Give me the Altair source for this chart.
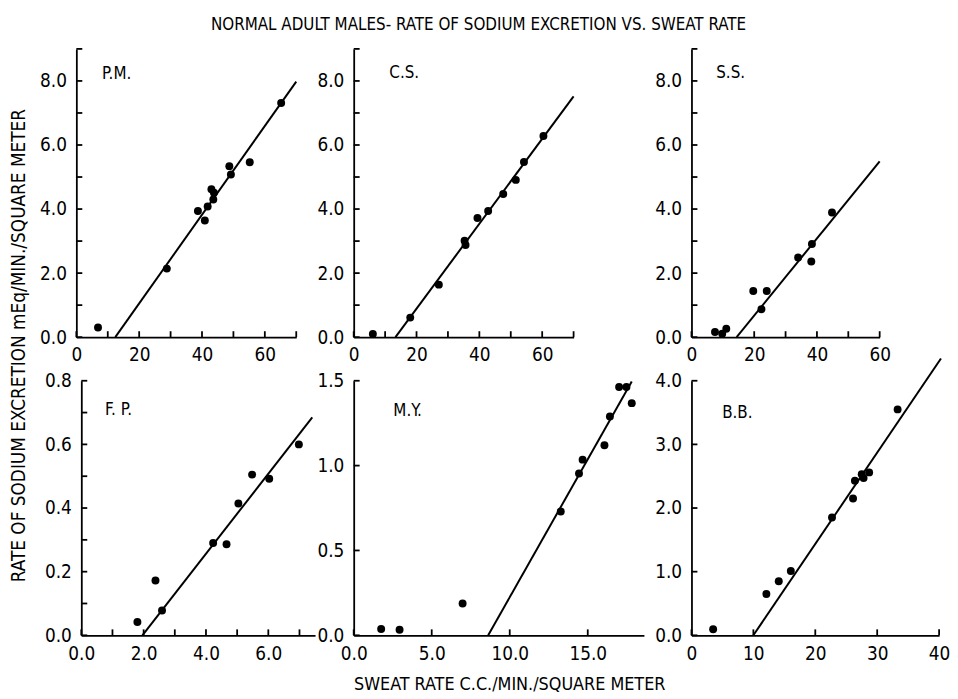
import altair as alt
import pandas as pd

FONT = "Liberation Sans Narrow, DejaVu Sans Condensed, sans-serif"
WEIGHT = "normal"

main_title = "NORMAL ADULT MALES- RATE OF SODIUM EXCRETION VS. SWEAT RATE"
y_title = "RATE OF SODIUM EXCRETION mEq/MIN./SQUARE METER"
x_title = "SWEAT RATE C.C./MIN./SQUARE METER"

# ---- data ----
pm_x = [6.9, 28.8, 38.7, 40.9, 41.8, 43.0, 43.6, 43.8, 48.7, 49.2, 55.2, 65.2]
pm_y = [0.30, 2.14, 3.94, 3.64, 4.08, 4.62, 4.30, 4.51, 5.34, 5.08, 5.46, 7.31]
pm_line_x = [12.4, 70.0]
pm_line_y = [0.0, 7.98]

cs_x = [6.1, 18.0, 27.1, 35.3, 35.6, 39.4, 42.8, 47.6, 51.6, 54.2, 60.4]
cs_y = [0.10, 0.61, 1.64, 3.01, 2.88, 3.72, 3.94, 4.47, 4.91, 5.47, 6.28]
cs_line_x = [13.3, 70.0]
cs_line_y = [0.0, 7.52]

ss_x = [7.5, 9.8, 11.1, 19.7, 22.3, 24.0, 34.0, 38.2, 38.4, 44.8]
ss_y = [0.16, 0.11, 0.26, 1.44, 0.87, 1.44, 2.49, 2.36, 2.91, 3.89]
ss_line_x = [14.4, 60.0]
ss_line_y = [0.0, 5.49]

fp_x = [1.80, 2.38, 2.59, 4.23, 4.66, 5.04, 5.48, 6.03, 6.98]
fp_y = [0.042, 0.172, 0.078, 0.290, 0.286, 0.414, 0.505, 0.492, 0.600]
fp_line_x = [1.96, 7.41]
fp_line_y = [0.0, 0.685]

my_x = [1.76, 2.94, 6.98, 13.27, 14.44, 14.67, 16.07, 16.42, 17.01, 17.48, 17.82]
my_y = [0.037, 0.033, 0.187, 0.73, 0.953, 1.035, 1.12, 1.29, 1.463, 1.463, 1.368]
my_line_x = [8.62, 17.82]
my_line_y = [0.0, 1.496]

bb_x = [3.5, 12.1, 14.1, 16.05, 22.7, 26.1, 26.4, 27.5, 27.8, 28.7, 33.3]
bb_y = [0.094, 0.65, 0.85, 1.01, 1.85, 2.15, 2.43, 2.53, 2.47, 2.56, 3.55]
bb_line_x = [10.0, 40.3]
bb_line_y = [0.0, 4.35]

# axis ticks / labels
top_y_ticks = [0, 1, 2, 3, 4, 5, 6, 7, 8, 9]
top_y_labels = [0, 2, 4, 6, 8]
pm_x_ticks = [0, 10, 20, 30, 40, 50, 60, 70]
pm_x_labels = [0, 20, 40, 60]
ss_x_ticks = [0, 10, 20, 30, 40, 50, 60]
ss_x_labels = [0, 20, 40, 60]
fp_y_ticks = [0.0, 0.1, 0.2, 0.3, 0.4, 0.5, 0.6, 0.7, 0.8]
fp_y_labels = [0.0, 0.2, 0.4, 0.6, 0.8]
fp_x_ticks = [0, 1, 2, 3, 4, 5, 6, 7]
fp_x_labels = [0, 2, 4, 6]
my_y_ticks = [0.0, 0.5, 1.0, 1.5]
my_y_labels = [0.0, 0.5, 1.0, 1.5]
my_x_ticks = [0, 5, 10, 15]
my_x_labels = [0, 5, 10, 15]
bb_y_ticks = [0, 1, 2, 3, 4]
bb_y_labels = [0, 1, 2, 3, 4]
bb_x_ticks = [0, 10, 20, 30, 40]
bb_x_labels = [0, 10, 20, 30, 40]

TICK_LEN = 6
LABEL_SIZE = 19


def panel(name, xs, ys, lx, ly, w, h, xdom, ydom, xt, xl, xfmt, yt, yl, yfmt,
          lab_pos, ytitle=None, xtitle=None, shift=0, head=None):
    pts = pd.DataFrame({"x": xs, "y": ys})
    line = pd.DataFrame({"x": lx, "y": ly})
    xtk = pd.DataFrame({"x": xt})
    ytk = pd.DataFrame({"y": yt})

    xaxis_kw = dict(values=xl, format=xfmt, ticks=False, grid=False,
                    domainColor="black", domainWidth=1.8,
                    labelFont=FONT, labelFontSize=LABEL_SIZE, labelFontWeight=WEIGHT,
                    labelColor="black",
                    labelPadding=9, labelFlush=False, labelOverlap=False,
                    labelBound=False, title=None)
    yaxis_kw = dict(values=yl, format=yfmt, ticks=False, grid=False,
                    domainColor="black", domainWidth=1.8,
                    labelFont=FONT, labelFontSize=LABEL_SIZE, labelFontWeight=WEIGHT,
                    labelColor="black",
                    labelPadding=10, labelOverlap=False, labelBound=False,
                    title=None)
    if shift:
        yaxis_kw.update(offset=-shift)
    if ytitle:
        yaxis_kw.update(title=ytitle, titleFont=FONT, titleFontSize=19,
                        titleFontWeight=WEIGHT, titleColor="black",
                        titleX=-58, titleY=299, titleAngle=270,
                        titleAlign="center", titleBaseline="middle")
    if xtitle:
        xaxis_kw.update(title=xtitle, titleFont=FONT, titleFontSize=18,
                        titleFontWeight=WEIGHT, titleColor="black",
                        titleX=157, titleY=50, titleAlign="center",
                        titleBaseline="middle")

    xscale = alt.Scale(domain=xdom, nice=False, zero=False)
    if shift:
        xscale = alt.Scale(domain=xdom, nice=False, zero=False, range=[shift, w])
    xenc = alt.X("x:Q", scale=xscale, axis=alt.Axis(**xaxis_kw))
    yenc = alt.Y("y:Q", scale=alt.Scale(domain=ydom, nice=False, zero=False),
                 axis=alt.Axis(**yaxis_kw))

    p = alt.Chart(pts).mark_circle(size=64, color="black", opacity=1).encode(x=xenc, y=yenc)
    l = alt.Chart(line).mark_line(color="black", strokeWidth=2, clip=False).encode(x=xenc, y=yenc)
    tx = alt.Chart(xtk).mark_rule(color="black", strokeWidth=1.8).encode(
        x=xenc, y=alt.value(h - TICK_LEN), y2=alt.value(h))
    ty = alt.Chart(ytk).mark_rule(color="black", strokeWidth=1.8).encode(
        y=yenc, x=alt.value(shift), x2=alt.value(shift + TICK_LEN))
    lab = alt.Chart(pd.DataFrame({"t": [name]})).mark_text(
        font=FONT, fontSize=17, fontWeight=WEIGHT, align="left", baseline="middle",
        color="black").encode(text="t:N", x=alt.value(lab_pos[0] + shift),
                              y=alt.value(lab_pos[1]))
    layers = [p, l, tx, ty, lab]
    if head:
        layers.append(alt.Chart(pd.DataFrame({"t": [head]})).mark_text(
            font=FONT, fontSize=17, fontWeight=WEIGHT, align="center", baseline="middle",
            color="black").encode(text="t:N", x=alt.value(126), y=alt.value(-24)))
    return alt.layer(*layers).properties(width=w, height=h)


def spacer(w):
    return alt.Chart(pd.DataFrame({"v": [0]})).mark_point(opacity=0).encode(
        x=alt.value(0), y=alt.value(0)).properties(width=w, height=10)


TOP_H = 291
BOT_H = 257

pm = panel("P.M.", pm_x, pm_y, pm_line_x, pm_line_y, 222, TOP_H, [0, 70], [0, 9],
           pm_x_ticks, pm_x_labels, "d", top_y_ticks, top_y_labels, ".1f", (26, 25),
           ytitle=y_title)
cs = panel("C.S.", cs_x, cs_y, cs_line_x, cs_line_y, 222, TOP_H, [0, 70], [0, 9],
           pm_x_ticks, pm_x_labels, "d", top_y_ticks, top_y_labels, ".1f", (36, 24),
           head=main_title)
ss = panel("S.S.", ss_x, ss_y, ss_line_x, ss_line_y, 190, TOP_H, [0, 60], [0, 9],
           ss_x_ticks, ss_x_labels, "d", top_y_ticks, top_y_labels, ".1f", (25, 24))
fp = panel("F. P.", fp_x, fp_y, fp_line_x, fp_line_y, 241, BOT_H, [0, 7.5], [0, 0.8],
           fp_x_ticks, fp_x_labels, ".1f", fp_y_ticks, fp_y_labels, ".1f", (24, 30),
           shift=5)
my = panel("M.Y.", my_x, my_y, my_line_x, my_line_y, 293, BOT_H, [0, 18.6], [0, 1.5],
           my_x_ticks, my_x_labels, ".1f", my_y_ticks, my_y_labels, ".1f", (40, 31),
           xtitle=x_title)
bb = panel("B.B.", bb_x, bb_y, bb_line_x, bb_line_y, 250, BOT_H, [0, 40], [0, 4],
           bb_x_ticks, bb_x_labels, "d", bb_y_ticks, bb_y_labels, ".1f", (31, 33))

chart = alt.concat(
    pm, spacer(39), cs, spacer(48), ss,
    fp, spacer(39), my, spacer(48), bb,
    columns=5,
    spacing={"row": 44, "column": 0},
    bounds="flush",
).properties(
    padding={"left": 1, "top": 5, "right": 0, "bottom": 3},
    background="white",
).configure_view(stroke=None)

chart.save("out.html", embed_options={"renderer": "svg", "actions": False})
